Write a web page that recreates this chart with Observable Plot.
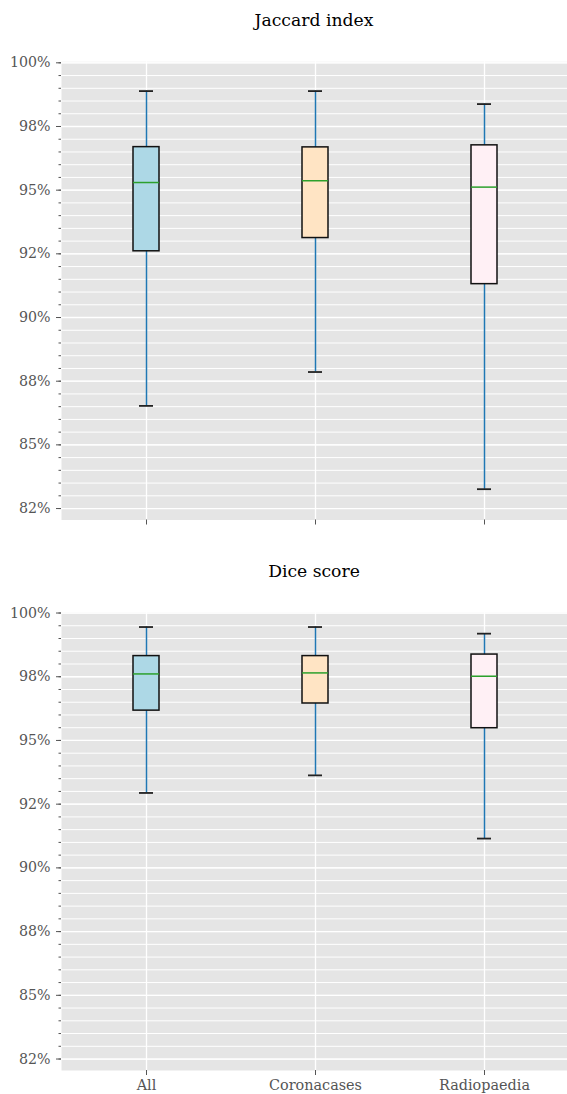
<!DOCTYPE html>
<html>
<head>
<meta charset="utf-8">
<script src="https://cdn.jsdelivr.net/npm/d3@7"></script>
<script src="https://cdn.jsdelivr.net/npm/@observablehq/plot@0.6"></script>
<style>
  html, body { margin: 0; padding: 0; background: #ffffff; overflow: hidden; }
  body { font-family: "DejaVu Serif", serif; }
  .title { height: 40px; line-height: 40px; width: 506px; margin-left: 61px; text-align: center; font-size: 17.2px; color: #000; }
  #chart svg { display: block; }
</style>
</head>
<body>
<div id="chart"></div>
<script>
// ---- data ----
const categories = ["All", "Coronacases", "Radiopaedia"];
const boxColors = ["#add8e6", "#ffe4c4", "#fff0f5"];

const jaccardLow    = [0.8653, 0.8786, 0.8326];
const jaccardQ1     = [0.9260, 0.9312, 0.9131];
const jaccardMedian = [0.9530, 0.9537, 0.9512];
const jaccardQ3     = [0.9669, 0.9668, 0.9676];
const jaccardHigh   = [0.9889, 0.9889, 0.9838];

const diceLow    = [0.9294, 0.9363, 0.9115];
const diceQ1     = [0.9617, 0.9645, 0.9548];
const diceMedian = [0.9761, 0.9765, 0.9752];
const diceQ3     = [0.9831, 0.9831, 0.9837];
const diceHigh   = [0.9945, 0.9945, 0.9919];

const yTickValues = [1.0, 0.975, 0.95, 0.925, 0.9, 0.875, 0.85, 0.825];
const yTickLabels = ["100%", "98%", "95%", "92%", "90%", "88%", "85%", "82%"];
const yMinorTicks = d3.range(0, 36).map(i => +(0.825 + i * 0.005).toFixed(3));

const FONT = '"DejaVu Serif", serif';

function panel(low, q1, med, q3, high, showLabels, height, marginTop, marginBottom) {
  const rows = categories.map((c, i) => ({
    cat: c, low: low[i], q1: q1[i], med: med[i], q3: q3[i], high: high[i], fill: boxColors[i]
  }));
  return Plot.plot({
    width: 567,
    height,
    marginTop,
    marginBottom,
    marginLeft: 61,
    marginRight: 0,
    style: { fontFamily: FONT, fontSize: "14.2px", color: "#555555", background: "transparent", overflow: "visible" },
    x: { type: "band", domain: categories, paddingInner: 0.846, paddingOuter: 0.423, range: [61.5, 568.5] },
    y: { domain: [0.8205, 1.0004] },
    color: { type: "identity" },
    marks: [
      Plot.frame({ fill: "#e5e5e5", stroke: "none" }),
      Plot.ruleY(yMinorTicks, { stroke: "#ffffff", strokeWidth: 1 }),
      Plot.ruleY(yTickValues, { stroke: "#ffffff", strokeWidth: 1.3 }),
      Plot.ruleX(categories, { x: d => d, stroke: "#ffffff", strokeWidth: 1.3 }),
      Plot.ruleX(rows, { x: "cat", y1: "low", y2: "high", stroke: "#1f77b4", strokeWidth: 1.5 }),
      Plot.tickY(rows, { x: "cat", y: "low", stroke: "#222222", strokeWidth: 1.8, insetLeft: 6, insetRight: 6 }),
      Plot.tickY(rows, { x: "cat", y: "high", stroke: "#222222", strokeWidth: 1.8, insetLeft: 6, insetRight: 6 }),
      Plot.barY(rows, { x: "cat", y1: "q1", y2: "q3", fill: "fill", stroke: "#111111", strokeWidth: 1.5 }),
      Plot.tickY(rows, { x: "cat", y: "med", stroke: "#2ca02c", strokeWidth: 1.5 }),
      Plot.axisY({ ticks: yMinorTicks, tickSize: 2.5, fill: "none", stroke: "#555555", label: null }),
      Plot.axisY({
        ticks: yTickValues,
        tickFormat: d => yTickLabels[yTickValues.indexOf(d)],
        tickSize: 5, tickPadding: 6, stroke: "#555555", fill: "#555555", label: null,
        fontFamily: FONT, fontSize: 14.2, fontVariant: "normal"
      }),
      showLabels
        ? Plot.axisX({ tickSize: 5, tickPadding: 4, stroke: "#555555", fill: "#555555", label: null,
            fontFamily: FONT, fontSize: 14.4, fontVariant: "normal" })
        : Plot.axisX({ tickSize: 5, fill: "none", stroke: "#555555", label: null })
    ]
  });
}

const chart = document.getElementById("chart");

const t1 = document.createElement("div");
t1.className = "title";
t1.textContent = "Jaccard index";
chart.appendChild(t1);
chart.appendChild(panel(jaccardLow, jaccardQ1, jaccardMedian, jaccardQ3, jaccardHigh, false, 511, 21.3, 31.5));

const t2 = document.createElement("div");
t2.className = "title";
t2.textContent = "Dice score";
chart.appendChild(t2);
chart.appendChild(panel(diceLow, diceQ1, diceMedian, diceQ3, diceHigh, true, 503, 20.5, 24));
</script>
</body>
</html>
